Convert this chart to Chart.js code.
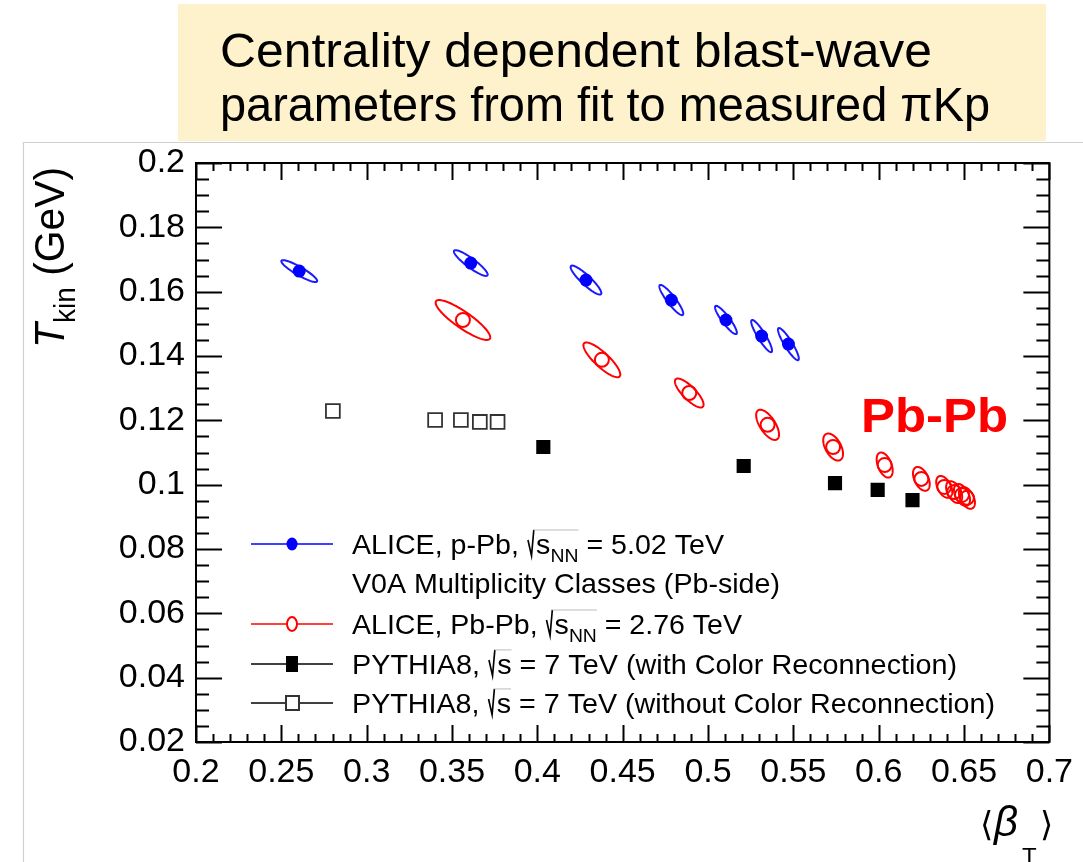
<!DOCTYPE html>
<html>
<head>
<meta charset="utf-8">
<script src="https://cdn.jsdelivr.net/npm/chart.js@4.4.0/dist/chart.umd.min.js"></script>
<style>
  body { margin: 0; background: #fff; }
  canvas { display: block; }
</style>
</head>
<body>
<canvas id="blastWave" width="1083" height="862"></canvas>
<script>
// axis ticks
const xTicks = [0.2, 0.25, 0.3, 0.35, 0.4, 0.45, 0.5, 0.55, 0.6, 0.65, 0.7];
const xTickLabels = ['0.2', '0.25', '0.3', '0.35', '0.4', '0.45', '0.5', '0.55', '0.6', '0.65', '0.7'];
const yTicks = [0.02, 0.04, 0.06, 0.08, 0.1, 0.12, 0.14, 0.16, 0.18, 0.2];
const yTickLabels = ['0.02', '0.04', '0.06', '0.08', '0.1', '0.12', '0.14', '0.16', '0.18', '0.2'];

// ALICE p-Pb 5.02 TeV (V0A classes) : <beta_T>, T_kin, uncertainties, correlation
const pPbBeta = [0.2605, 0.3610, 0.4285, 0.4785, 0.5105, 0.5314, 0.5471];
const pPbT    = [0.1664, 0.1689, 0.1636, 0.1574, 0.1512, 0.1462, 0.1437];
const pPbSigBeta = [0.0105, 0.0099, 0.0090, 0.0070, 0.0064, 0.0061, 0.0061];
const pPbSigT    = [0.0034, 0.0040, 0.0045, 0.0047, 0.0044, 0.0050, 0.0050];
const pPbRho     = [-0.9, -0.9, -0.9, -0.9, -0.9, -0.9, -0.9];

// ALICE Pb-Pb 2.76 TeV
const PbPbBeta = [0.3564, 0.4378, 0.4890, 0.5349, 0.5733, 0.6035, 0.6250, 0.6384, 0.6442, 0.6488, 0.6517];
const PbPbT    = [0.1512, 0.1388, 0.1285, 0.1186, 0.1117, 0.1061, 0.1018, 0.0993, 0.0977, 0.0968, 0.0959];
const PbPbSigBeta = [0.0160, 0.0108, 0.0084, 0.0067, 0.0058, 0.0047, 0.0049, 0.0047, 0.0047, 0.0047, 0.0047];
const PbPbSigT    = [0.0062, 0.0054, 0.0045, 0.0047, 0.0042, 0.0039, 0.0037, 0.0034, 0.0034, 0.0034, 0.0034];
const PbPbRho     = [-0.87, -0.84, -0.8, -0.64, -0.5, -0.45, -0.45, -0.45, -0.45, -0.45, -0.45];

// PYTHIA8 7 TeV with / without colour reconnection
const cRBeta = [0.4035, 0.5209, 0.5744, 0.5994, 0.6198];
const cRT    = [0.1117, 0.1058, 0.1005, 0.0984, 0.0952];
const noCRBeta = [0.2802, 0.3401, 0.3552, 0.3663, 0.3767];
const noCRT    = [0.1229, 0.1201, 0.1201, 0.1195, 0.1195];

const pts = (xs, ys) => xs.map((x, i) => ({ x: x, y: ys[i] }));
const FAM = '"Liberation Sans", Arial, Helvetica, sans-serif';

// text fitted to a given width
function fitText(ctx, text, x, y, font, width, color) {
  ctx.save();
  ctx.font = font;
  ctx.fillStyle = color || '#000';
  const w = ctx.measureText(text).width;
  ctx.translate(x, y);
  ctx.scale(width / w, 1);
  ctx.textAlign = 'left';
  ctx.textBaseline = 'alphabetic';
  ctx.fillText(text, 0, 0);
  ctx.restore();
}

// legend text with ROOT-like sqrt and subscripts
function richText(ctx, parts, x, y, size, width) {
  const big = size + 'px ' + FAM, small = Math.round(size * 0.68) + 'px ' + FAM;
  ctx.save();
  parts.forEach(p => {
    if (p.rad) { p.w = size * 0.32; return; }
    if (p.radEnd) { p.w = 0; return; }
    ctx.font = p.sub ? small : big;
    p.w = ctx.measureText(p.t).width;
  });
  const total = parts.reduce((s, p) => s + p.w, 0);
  ctx.translate(x, y);
  ctx.scale(width / total, 1);
  ctx.fillStyle = '#000';
  ctx.textBaseline = 'alphabetic';
  let cx = 0, radX = null;
  parts.forEach(p => {
    if (p.rad) {
      ctx.strokeStyle = '#000';
      ctx.lineWidth = 1.6;
      ctx.beginPath();
      ctx.moveTo(cx + 1, -size * 0.5);
      ctx.lineTo(cx + size * 0.16, size * 0.06);
      ctx.lineTo(cx + size * 0.24, -size * 0.86);
      ctx.stroke();
      radX = cx + size * 0.24;
    } else if (p.radEnd) {
      ctx.strokeStyle = '#bbb';
      ctx.lineWidth = 1;
      ctx.beginPath();
      ctx.moveTo(radX, -size * 0.86);
      ctx.lineTo(cx, -size * 0.86);
      ctx.stroke();
    } else {
      ctx.font = p.sub ? small : big;
      ctx.fillText(p.t, cx, p.sub ? size * 0.28 : 0);
    }
    cx += p.w;
  });
  ctx.restore();
}

function drawEllipse(ctx, xs, ys, cx, cy, sx, sy, rho) {
  const n = 90, k = Math.sqrt(1 - rho * rho);
  ctx.beginPath();
  for (let i = 0; i <= n; i++) {
    const t = i / n * 2 * Math.PI;
    const px = xs.getPixelForValue(cx + sx * Math.cos(t));
    const py = ys.getPixelForValue(cy + sy * (rho * Math.cos(t) + k * Math.sin(t)));
    if (i === 0) ctx.moveTo(px, py); else ctx.lineTo(px, py);
  }
  ctx.closePath();
  ctx.stroke();
}

const decor = {
  id: 'decor',
  beforeDraw(chart) {
    const ctx = chart.ctx;
    ctx.save();
    ctx.fillStyle = '#fff';
    ctx.fillRect(0, 0, chart.width, chart.height);
    ctx.fillStyle = '#fef2cc';
    ctx.fillRect(178, 4, 868, 137);
    ctx.strokeStyle = '#cfcfcf';
    ctx.lineWidth = 1.2;
    ctx.beginPath();
    ctx.moveTo(23, 142.5); ctx.lineTo(chart.width, 142.5);
    ctx.moveTo(23.5, 142); ctx.lineTo(23.5, chart.height);
    ctx.stroke();
    const tf = '48px ' + FAM;
    fitText(ctx, 'Centrality dependent blast-wave', 220, 67, tf, 712);
    fitText(ctx, 'parameters from fit to measured \u03c0Kp', 220, 121, tf, 770);
    ctx.restore();
  },
  beforeDatasetsDraw(chart) {
    const ctx = chart.ctx, xs = chart.scales.x, ys = chart.scales.y, a = chart.chartArea;
    ctx.save();
    ctx.beginPath();
    ctx.rect(a.left, a.top, a.right - a.left, a.bottom - a.top);
    ctx.clip();
    ctx.lineWidth = 2;
    ctx.strokeStyle = '#1a1aff';
    pPbBeta.forEach((b, i) => drawEllipse(ctx, xs, ys, b, pPbT[i], pPbSigBeta[i], pPbSigT[i], pPbRho[i]));
    ctx.strokeStyle = '#ff0000';
    PbPbBeta.forEach((b, i) => drawEllipse(ctx, xs, ys, b, PbPbT[i], PbPbSigBeta[i], PbPbSigT[i], PbPbRho[i]));
    ctx.restore();
  },
  afterDraw(chart) {
    const ctx = chart.ctx, xs = chart.scales.x, ys = chart.scales.y, a = chart.chartArea;
    ctx.save();
    // frame and inner ticks
    ctx.strokeStyle = '#000';
    ctx.lineWidth = 2;
    ctx.strokeRect(a.left, a.top, a.right - a.left, a.bottom - a.top);
    ctx.beginPath();
    for (let i = 0; i <= 50; i++) {
      const v = 0.2 + i * 0.01, px = Math.round(xs.getPixelForValue(v)) + 0.5;
      const len = i % 5 === 0 ? 17 : 8;
      ctx.moveTo(px, a.bottom); ctx.lineTo(px, a.bottom - len);
      ctx.moveTo(px, a.top); ctx.lineTo(px, a.top + len);
    }
    for (let i = 0; i <= 36; i++) {
      const v = 0.02 + i * 0.005, py = Math.round(ys.getPixelForValue(v)) + 0.5;
      const len = i % 4 === 0 ? 26 : 13;
      ctx.moveTo(a.left, py); ctx.lineTo(a.left + len, py);
      ctx.moveTo(a.right, py); ctx.lineTo(a.right - len, py);
    }
    ctx.stroke();

    // axis titles
    ctx.fillStyle = '#000';
    ctx.save();
    ctx.translate(64, 348);
    ctx.rotate(-Math.PI / 2);
    const yParts = [
      { t: 'T', font: 'italic 42px ' + FAM, dy: 0 },
      { t: 'kin', font: '29px ' + FAM, dy: 11 },
      { t: ' (GeV)', font: '42px ' + FAM, dy: 0 }
    ];
    let tw = 0;
    yParts.forEach(p => { ctx.font = p.font; p.w = ctx.measureText(p.t).width; tw += p.w; });
    ctx.scale(181 / tw, 1);
    let cx = 0;
    yParts.forEach(p => { ctx.font = p.font; ctx.fillText(p.t, cx, p.dy); cx += p.w; });
    ctx.restore();

    ctx.font = '34px "DejaVu Sans", sans-serif';
    ctx.fillText('\u27e8', 980, 836);
    ctx.font = 'italic 42px ' + FAM;
    ctx.fillText('\u03b2', 994, 836);
    ctx.font = '24px ' + FAM;
    ctx.fillText('T', 1022, 865);
    ctx.font = '34px "DejaVu Sans", sans-serif';
    ctx.fillText('\u27e9', 1040, 836);

    // Pb-Pb label
    fitText(ctx, 'Pb-Pb', 861, 432, 'bold 49px ' + FAM, 147, '#ff0000');

    // legend
    const rows = [
      { y: 544, color: '#0000ff', mark: 'dot',
        parts: [{ t: 'ALICE, p-Pb, ' }, { rad: true }, { t: 's' }, { t: 'NN', sub: true }, { radEnd: true }, { t: ' = 5.02 TeV' }], w: 372 },
      { y: 583, color: null,
        parts: [{ t: 'V0A Multiplicity Classes (Pb-side)' }], w: 428 },
      { y: 624, color: '#ff0000', mark: 'ring',
        parts: [{ t: 'ALICE, Pb-Pb, ' }, { rad: true }, { t: 's' }, { t: 'NN', sub: true }, { radEnd: true }, { t: ' = 2.76 TeV' }], w: 390 },
      { y: 664, color: '#000', mark: 'square',
        parts: [{ t: 'PYTHIA8, ' }, { rad: true }, { t: 's' }, { radEnd: true }, { t: ' = 7 TeV (with Color Reconnection)' }], w: 605 },
      { y: 703, color: '#000', mark: 'box',
        parts: [{ t: 'PYTHIA8, ' }, { rad: true }, { t: 's' }, { radEnd: true }, { t: ' = 7 TeV (without Color Reconnection)' }], w: 643 }
    ];
    rows.forEach(r => {
      if (r.color) {
        ctx.strokeStyle = r.color;
        ctx.lineWidth = 1.6;
        ctx.beginPath();
        ctx.moveTo(251, r.y); ctx.lineTo(333, r.y);
        ctx.stroke();
        ctx.fillStyle = r.color;
        ctx.lineWidth = 2;
        if (r.mark === 'dot') {
          ctx.beginPath(); ctx.ellipse(292, r.y, 5.5, 6.5, 0, 0, 2 * Math.PI); ctx.fill();
        } else if (r.mark === 'ring') {
          ctx.fillStyle = '#fff';
          ctx.beginPath(); ctx.ellipse(292, r.y, 5, 7, 0, 0, 2 * Math.PI); ctx.fill(); ctx.stroke();
        } else if (r.mark === 'square') {
          ctx.fillRect(286, r.y - 8, 12, 16);
        } else {
          ctx.fillStyle = '#fff';
          ctx.fillRect(286, r.y - 7, 13, 14);
          ctx.strokeStyle = '#333';
          ctx.strokeRect(286, r.y - 7, 13, 14);
        }
      }
      richText(ctx, r.parts, 352, r.y + 10, 28, r.w);
    });
    ctx.restore();
  }
};

const tickFont = { family: FAM, size: 34 };

new Chart(document.getElementById('blastWave').getContext('2d'), {
  type: 'scatter',
  data: {
    datasets: [
      { label: 'ALICE p-Pb', data: pts(pPbBeta, pPbT), pointStyle: 'circle', pointRadius: 6.5,
        backgroundColor: '#0000ff', borderColor: '#0000ff', borderWidth: 0 },
      { label: 'ALICE Pb-Pb', data: pts(PbPbBeta, PbPbT), pointStyle: 'circle', pointRadius: 7,
        backgroundColor: 'rgba(0,0,0,0)', borderColor: '#ff0000', borderWidth: 2 },
      { label: 'PYTHIA8 CR', data: pts(cRBeta, cRT), pointStyle: 'rect', pointRadius: 10,
        backgroundColor: '#000', borderColor: '#000', borderWidth: 0 },
      { label: 'PYTHIA8 no CR', data: pts(noCRBeta, noCRT), pointStyle: 'rect', pointRadius: 9.8,
        backgroundColor: 'rgba(0,0,0,0)', borderColor: '#333', borderWidth: 1.8 }
    ]
  },
  options: {
    responsive: false,
    animation: false,
    events: [],
    layout: { padding: { top: 163, right: 27, left: 0, bottom: 0 } },
    plugins: { legend: { display: false }, tooltip: { enabled: false } },
    scales: {
      x: {
        type: 'linear', min: 0.2, max: 0.7,
        afterBuildTicks: s => { s.ticks = xTicks.map(v => ({ value: v })); },
        afterFit: s => { s.height = 120; },
        ticks: { callback: (v, i) => xTickLabels[i], font: tickFont, color: '#000', padding: 10,
                 autoSkip: false, maxRotation: 0 },
        grid: { display: false, drawTicks: false },
        border: { display: false }
      },
      y: {
        type: 'linear', min: 0.02, max: 0.2,
        afterBuildTicks: s => { s.ticks = yTicks.map(v => ({ value: v })); },
        afterFit: s => { s.width = 196; },
        ticks: { callback: (v, i) => yTickLabels[i], font: tickFont, color: '#000', padding: 11,
                 autoSkip: false },
        grid: { display: false, drawTicks: false },
        border: { display: false }
      }
    }
  },
  plugins: [decor]
});
</script>
</body>
</html>
